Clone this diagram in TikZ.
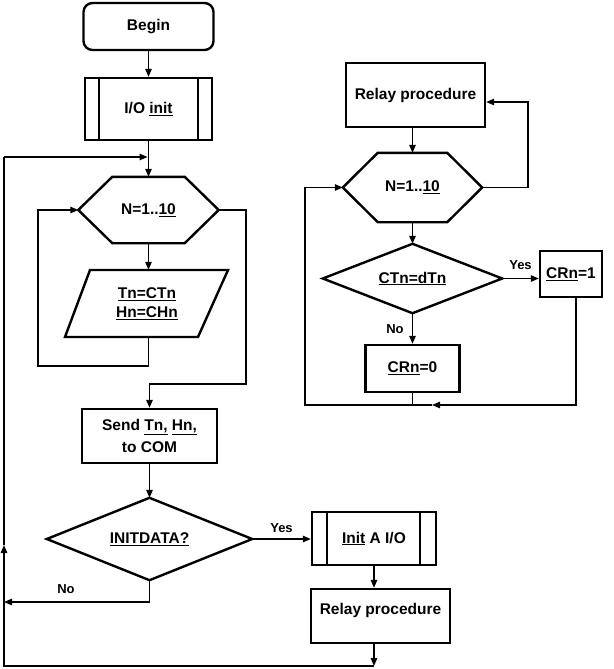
\documentclass[tikz,border=0pt]{standalone}
\usepackage{fontspec}
\setmainfont{Liberation Sans}
\usetikzlibrary{arrows.meta,calc}
\begin{document}
\begin{tikzpicture}[x=1pt,y=-1pt,
  txt/.style={font=\fontsize{15.5}{19}\selectfont\bfseries,align=center,inner sep=0pt},
  box/.style={txt,draw,line width=2.4pt,rectangle},
  shapebox/.style={txt,draw=none},
  outline/.style={line width=2.4pt,line join=miter},
  conn/.style={line width=1.3pt},
  arr/.style={conn,-{Triangle[length=8pt,width=6.5pt]}},
  lbl/.style={font=\fontsize{13}{15}\selectfont\bfseries,inner sep=0pt}
]
\useasboundingbox (0,0) rectangle (613,669);

% ---------- left column ----------
\node[box,rounded corners=9pt,minimum width=130pt,minimum height=47pt] (begin) at (148.5,26.5) {Begin};
\node[box,minimum width=127pt,minimum height=62pt] (ioinit) at (148.5,109) {I/O \underline{init}};
\draw[outline] ($(ioinit.north west)+(15,0)$) -- ($(ioinit.south west)+(15,0)$)
               ($(ioinit.north east)+(-15,0)$) -- ($(ioinit.south east)+(-15,0)$);

\node[shapebox,minimum width=140pt,minimum height=66pt] (hex1) at (148.5,210) {N=1..\underline{10}};
\draw[outline] (hex1.west) -- ($(hex1.north west)+(34,0)$) -- ($(hex1.north east)+(-34,0)$)
  -- (hex1.east) -- ($(hex1.south east)+(-34,0)$) -- ($(hex1.south west)+(34,0)$) -- cycle;

\node[shapebox,minimum width=100pt,minimum height=67pt] (para) at (147,303.5) {\underline{Tn=CTn}\\\underline{Hn=CHn}};
\draw[outline] ($(para.center)+(-57,-33.5)$) -- ($(para.center)+(81,-33.5)$)
  -- ($(para.center)+(51,33.5)$) -- ($(para.center)+(-82,33.5)$) -- cycle;

\node[box,minimum width=135pt,minimum height=54pt,font=\fontsize{15.5}{22}\selectfont\bfseries] (send) at (149.5,436) {Send \underline{Tn,} \underline{Hn,}\\to COM};

\node[shapebox,minimum width=205pt,minimum height=82pt] (dia) at (149.5,539) {\underline{INITDATA?}};
\draw[outline] (dia.north) -- (dia.east) -- (dia.south) -- (dia.west) -- cycle;

\node[box,minimum width=124pt,minimum height=53pt] (initA) at (374,538.5) {\underline{Init} A I/O};
\draw[outline] ($(initA.north west)+(16,0)$) -- ($(initA.south west)+(16,0)$)
               ($(initA.north east)+(-17,0)$) -- ($(initA.south east)+(-17,0)$);

\node[box,minimum width=139pt,minimum height=54pt,text height=11pt,text depth=14pt] (relay2) at (380.5,616) {Relay procedure};

% ---------- right column ----------
\node[box,minimum width=139pt,minimum height=64pt] (relay1) at (415.5,95) {Relay procedure};

\node[shapebox,minimum width=139pt,minimum height=69pt] (hex2) at (412.5,187.5) {N=1..\underline{10}};
\draw[outline] (hex2.west) -- ($(hex2.north west)+(35,0)$) -- ($(hex2.north east)+(-35,0)$)
  -- (hex2.east) -- ($(hex2.south east)+(-35,0)$) -- ($(hex2.south west)+(35,0)$) -- cycle;

\node[shapebox,minimum width=179pt,minimum height=69pt] (dia2) at (412.5,278.5) {\underline{CTn=dTn}};
\draw[outline] (dia2.north) -- (dia2.east) -- (dia2.south) -- (dia2.west) -- cycle;

\node[box,minimum width=62pt,minimum height=46pt] (crn1) at (571,274) {\underline{CRn}=1};
\node[box,minimum width=94pt,minimum height=47pt] (crn0) at (412.5,368.5) {\underline{CRn}=0};

% ---------- helper coordinates ----------
\coordinate (tl) at (4,157);
\coordinate (bl) at (4,666);
\coordinate (upm) at (4,545);
\coordinate (nol) at (4,602);
\coordinate (lp) at (38,366);
\coordinate (rx) at (246,384);
\coordinate (rr) at (528,102);
\coordinate (br) at (576,405);
\coordinate (bm) at (432,405);
\coordinate (bll) at (305,405);

% ---------- connectors, left ----------
\draw[arr] (begin.south) -- (begin.south |- ioinit.north);
\draw[conn] (ioinit.south) -- (ioinit.south |- tl);
\draw[arr] (ioinit.south |- tl) -- (ioinit.south |- hex1.north);
\draw[arr] (hex1.south) -- (hex1.south |- para.north);
\draw[arr] (hex1.south |- para.south) |- (lp) |- (hex1.west);
\draw[arr] (hex1.east) -| (rx) -| (send.north);
\draw[arr] (send.south) -- (dia.north);
\draw[arr] (dia.east) -- (dia.east -| initA.west) node[lbl,midway,above=6pt] (yes1) {Yes};
\draw[arr] (dia.south) |- (nol);
\node[lbl] (no1) at (66,589) {No};
\draw[arr] (initA.south) -- (initA.south |- relay2.north);
\draw[arr] (initA.south |- relay2.south) -- (initA.south |- bl);
\draw[arr] (initA.south |- bl) -- (bl) -- (upm);
\draw[conn] (upm) -- (tl);
\draw[arr] (tl) -- ($(ioinit.south |- tl)+(-1,0)$);

% ---------- connectors, right ----------
\draw[arr] (hex2.north |- relay1.south) -- (hex2.north);
\draw[arr] (hex2.east) -| (rr) -- (rr -| relay1.east);
\draw[arr] (hex2.south) -- (dia2.north);
\draw[arr] (dia2.east) -- (dia2.east -| crn1.west) node[lbl,midway,above=8pt] (yes2) {Yes};
\draw[arr] (dia2.south) -- (dia2.south |- crn0.north);
\node[lbl] (no2) at (395,329) {No};
\draw[arr] (crn1.south -| br) -- (br) -- (bm);
\draw[arr] (bm) -- (bll) |- (hex2.west);
\draw[conn] (crn0.south) -- (crn0.south |- br);
\end{tikzpicture}
\end{document}
